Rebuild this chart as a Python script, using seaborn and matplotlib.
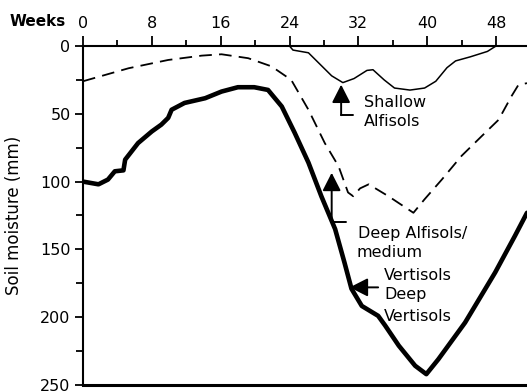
import numpy as np
import pandas as pd
import matplotlib
matplotlib.use("Agg")
import matplotlib.pyplot as plt
import seaborn as sns

# values (weeks, soil moisture deficit in mm)
shallow_weeks = [24, 24.4, 26.2, 28.9, 30.2, 31.5, 33.0, 33.7, 35.0, 36.2, 38.0, 39.7, 41.0, 42.3, 43.3, 45.0, 47.0, 48.0, 51.6]
shallow_mm = [0, 3, 5, 22, 27, 24, 18, 17.5, 25, 31, 32.5, 31, 26, 16, 11, 8, 4, 0, 0]

deep_alf_weeks = [0, 5.3, 9.9, 13.8, 16.1, 19.2, 21.9, 24.2, 26.2, 28.1, 29.7, 30.8, 31.4, 32.2, 33.2, 35.5, 38.4, 39.7,
                  41.7, 44.0, 46.3, 48.3, 49.8, 50.6, 51.6]
deep_alf_mm = [26, 16.4, 10.3, 7.1, 6.1, 9, 15, 25, 47, 71.6, 88.7, 108, 110.8, 105, 102, 110.8, 123, 113,
               98.5, 81, 66.7, 54.4, 37, 28.7, 27.4]

vert_weeks = [0, 1.8, 2.9, 3.7, 4.7, 4.9, 6.4, 8.0, 9.1, 9.9, 10.3, 11.8, 14.2, 16.1, 18.0, 19.9, 21.5, 23.1, 24.6,
              26.2, 27.7, 29.3, 30.4, 31.2, 32.4, 34.3, 35.1, 36.7, 38.6, 39.9, 41.3, 44.4, 47.9, 50.2, 51.6]
vert_mm = [100, 102, 98.5, 92.4, 91.7, 83.8, 71.6, 63, 58, 53, 47, 42, 38.5, 33.6, 30.4, 30.4, 32.4, 44.6, 64,
           86, 110.8, 135, 160, 179, 191.7, 199, 206, 221, 235.8, 242, 231, 204, 167, 140, 123]

week_ticks = [0, 8, 16, 24, 32, 40, 48]
mm_ticks = [0, 50, 100, 150, 200, 250]

sns.set_style("ticks")
plt.rcParams['font.family'] = ['DejaVu Sans']
plt.rcParams.update({"text.color": "black", "axes.labelcolor": "black",
                     "xtick.color": "black", "ytick.color": "black", "axes.edgecolor": "black"})

fig = plt.figure(figsize=(5.27, 3.91), dpi=100)
ax = fig.add_axes([83 / 527, 1 - 385 / 391, 1 - 83 / 527, 339 / 391])

sns.lineplot(data=pd.DataFrame({"w": shallow_weeks, "m": shallow_mm}), x="w", y="m",
             color="black", lw=1.1, sort=False, ax=ax)
sns.lineplot(data=pd.DataFrame({"w": deep_alf_weeks, "m": deep_alf_mm}), x="w", y="m",
             color="black", lw=1.3, sort=False, ax=ax, linestyle=(0, (7, 4)))
sns.lineplot(data=pd.DataFrame({"w": vert_weeks, "m": vert_mm}), x="w", y="m",
             color="black", lw=3.3, sort=False, ax=ax, solid_capstyle="round")

ax.set_xlim(0, 51.6)
ax.set_ylim(250, 0)
ax.xaxis.tick_top()
ax.set_xticks(week_ticks)
ax.set_xticks(np.arange(4, 52, 8), minor=True)
ax.set_yticks(mm_ticks)
ax.set_yticks(np.arange(25, 250, 50), minor=True)
ax.tick_params(axis="x", which="major", length=7, width=1.3, pad=4, labelsize=11.5, top=True, bottom=False)
ax.tick_params(axis="x", which="minor", length=4, width=1.3, top=True, bottom=False)
ax.tick_params(axis="y", which="major", length=6, width=1.3, pad=3, labelsize=11.5)
ax.tick_params(axis="y", which="minor", length=5, width=1.3)

ax.spines["right"].set_visible(False)
ax.spines["top"].set_linewidth(1.5)
ax.spines["left"].set_linewidth(1.5)
ax.spines["bottom"].set_linewidth(2.2)

ax.set_xlabel("")
ax.set_ylabel("Soil moisture (mm)", fontsize=12)
ax.yaxis.set_label_coords(-60 / 444, 0.5)
fig.text(10 / 527, 1 - 22 / 391, "Weeks", fontsize=11, fontweight="bold", va="center", ha="left")

arrow = dict(arrowstyle="-|>,head_length=0.55,head_width=0.28", color="black", lw=1.4,
             mutation_scale=20, shrinkA=0, shrinkB=0)
fs = 11.5

# Shallow Alfisols
ax.annotate("", xy=(30.0, 28.5), xytext=(30.0, 51), arrowprops=arrow)
ax.plot([30.0, 31.4], [51, 51], color="black", lw=1.4)
ax.text(32.6, 42, "Shallow", fontsize=fs, va="center")
ax.text(32.6, 56, "Alfisols", fontsize=fs, va="center")

# Deep Alfisols / medium Vertisols
ax.annotate("", xy=(28.9, 93.5), xytext=(28.9, 129.6), arrowprops=arrow)
ax.plot([28.9, 30.6], [129.6, 129.6], color="black", lw=1.4)
ax.text(32.0, 138, "Deep Alfisols/", fontsize=fs, va="center")
ax.text(31.8, 152.6, "medium", fontsize=fs, va="center")
ax.text(35.0, 169, "Vertisols", fontsize=fs, va="center")

# Deep Vertisols
ax.annotate("", xy=(31.0, 178), xytext=(34.3, 178), arrowprops=arrow)
ax.text(35.0, 183.6, "Deep", fontsize=fs, va="center")
ax.text(35.0, 199.6, "Vertisols", fontsize=fs, va="center")

fig.savefig("out.png", dpi=100)
